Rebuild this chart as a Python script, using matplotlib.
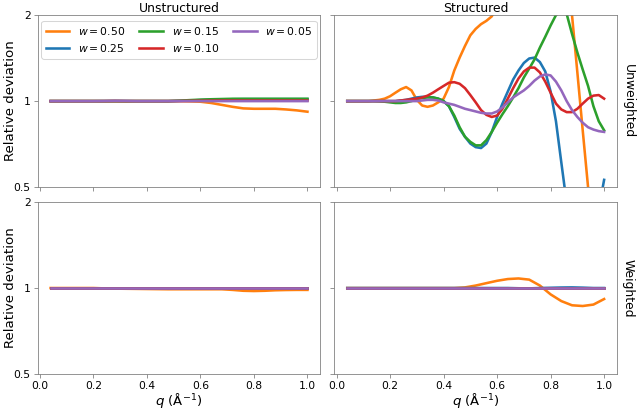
import numpy as np
import matplotlib.pyplot as plt
from matplotlib.ticker import FixedLocator, FixedFormatter, NullLocator

# q grids (1/Angstrom)
q_fine = np.round(np.arange(0.04, 1.001, 0.02), 2)    # structured / unweighted panel
q_coarse = np.round(np.arange(0.04, 1.001, 0.04), 2)  # other panels

widths = ['0.50', '0.25', '0.15', '0.10', '0.05']
colors = ['C1', 'C0', 'C2', 'C3', 'C4']

# --- Unstructured, unweighted (q_coarse) ---
unstr_unw = {
    '0.50': [1.0, 1.0, 1.0, 1.0, 1.0, 1.0, 1.002, 1.0, 1.0, 1.0, 1.0, 1.0, 1.0,
             0.998, 0.995, 0.985, 0.97, 0.955, 0.943, 0.94, 0.94, 0.94, 0.935, 0.928, 0.918],
    '0.25': [1.0, 1.0, 1.0, 1.0, 1.0, 1.0, 1.0, 1.0, 1.0, 1.0, 1.0, 1.0, 1.002,
             1.005, 1.008, 1.011, 1.013, 1.015, 1.016, 1.016, 1.016, 1.016, 1.016, 1.016, 1.016],
    '0.15': [1.0, 1.0, 1.0, 1.0, 1.0, 1.0, 1.0, 1.0, 1.0, 1.0, 1.0, 1.0, 1.003,
             1.008, 1.012, 1.015, 1.017, 1.019, 1.019, 1.019, 1.019, 1.019, 1.019, 1.019, 1.019],
    '0.10': [1.0, 1.0, 1.0, 1.0, 1.0, 1.0, 1.0, 1.0, 1.0, 1.0, 1.0, 1.0, 1.001,
             1.002, 1.003, 1.004, 1.005, 1.005, 1.005, 1.005, 1.005, 1.005, 1.005, 1.005, 1.005],
    '0.05': [1.0, 1.0, 1.0, 1.0, 1.0, 1.001, 1.003, 1.002, 1.0, 1.0, 1.0, 1.0, 1.0,
             1.0, 1.0, 1.0, 1.0, 1.0, 1.0, 1.0, 1.0, 1.0, 1.0, 1.0, 1.0],
}

# --- Structured, unweighted (q_fine) ---
str_unw = {
    '0.50': [1.0, 1.0, 1.0, 1.0, 1.0, 1.005, 1.01, 1.02, 1.04, 1.07, 1.10, 1.12, 1.09, 1.01,
             0.965, 0.955, 0.965, 0.99, 1.02, 1.12, 1.28, 1.42, 1.56, 1.70, 1.79, 1.86, 1.91,
             1.98, 2.15, 2.4, 2.7, 3.0, 3.2, 3.3, 3.3, 3.2, 3.0, 2.8, 2.6, 2.4, 2.25, 2.1,
             2.0, 1.26, 0.79, 0.5, 0.32, 0.22, 0.16],
    '0.25': [1.0, 1.0, 1.0, 1.0, 1.0, 1.0, 1.0, 1.0, 1.0, 1.0, 1.005, 1.01, 1.02, 1.03,
             1.035, 1.035, 1.03, 1.02, 1.0, 0.96, 0.88, 0.80, 0.75, 0.71, 0.69, 0.685, 0.71,
             0.78, 0.88, 0.98, 1.08, 1.19, 1.28, 1.36, 1.41, 1.42, 1.37, 1.27, 1.08, 0.85,
             0.61, 0.44, 0.34, 0.28, 0.26, 0.27, 0.31, 0.42, 0.53],
    '0.15': [1.0, 1.0, 1.0, 1.0, 1.0, 1.0, 0.998, 0.995, 0.99, 0.985, 0.985, 0.99, 1.0,
             1.015, 1.025, 1.03, 1.03, 1.02, 1.0, 0.96, 0.89, 0.81, 0.75, 0.72, 0.70, 0.70,
             0.73, 0.78, 0.84, 0.90, 0.96, 1.03, 1.11, 1.21, 1.30, 1.40, 1.54, 1.68, 1.84,
             2.0, 2.08, 2.02, 1.72, 1.48, 1.29, 1.13, 0.96, 0.85, 0.79],
    '0.10': [1.0, 1.0, 1.0, 1.0, 1.0, 1.0, 1.0, 1.0, 1.0, 1.0, 1.005, 1.01, 1.015, 1.02,
             1.03, 1.045, 1.07, 1.10, 1.13, 1.16, 1.165, 1.15, 1.11, 1.05, 0.99, 0.93, 0.895,
             0.88, 0.89, 0.94, 1.02, 1.11, 1.20, 1.27, 1.31, 1.31, 1.26, 1.17, 1.07, 0.98,
             0.935, 0.915, 0.915, 0.94, 0.98, 1.02, 1.045, 1.05, 1.02],
    '0.05': [1.0, 1.0, 1.0, 1.0, 1.0, 1.0, 1.0, 1.0, 1.0, 1.0, 1.0, 1.0, 1.0, 1.0,
             1.005, 1.01, 1.01, 1.005, 0.99, 0.98, 0.97, 0.955, 0.94, 0.93, 0.92, 0.91,
             0.905, 0.905, 0.92, 0.95, 0.99, 1.03, 1.06, 1.09, 1.13, 1.18, 1.22, 1.24, 1.23,
             1.17, 1.09, 1.0, 0.93, 0.88, 0.84, 0.81, 0.795, 0.785, 0.78],
}

# --- Unstructured, weighted (q_coarse) ---
unstr_w = {
    '0.50': [1.0, 1.0, 1.0, 1.0, 1.0, 0.997, 0.995, 0.994, 0.993, 0.992, 0.991, 0.99, 0.99,
             0.99, 0.99, 0.99, 0.99, 0.985, 0.978, 0.976, 0.978, 0.982, 0.984, 0.985, 0.985],
    '0.25': [1.0] * 25,
    '0.15': [1.0] * 25,
    '0.10': [1.0] * 25,
    '0.05': [1.0] * 25,
}

# --- Structured, weighted (q_coarse) ---
str_w = {
    '0.50': [1.0, 1.0, 1.0, 1.0, 1.0, 1.0, 1.0, 1.0, 1.0, 1.0, 1.0, 1.005, 1.02,
             1.04, 1.06, 1.075, 1.08, 1.07, 1.02, 0.95, 0.90, 0.87, 0.865, 0.875, 0.915],
    '0.25': [1.0, 1.0, 1.0, 1.0, 1.0, 1.0, 1.0, 1.0, 1.0, 1.0, 1.0, 1.0, 1.0,
             1.0, 1.0, 1.0, 0.998, 0.997, 1.0, 1.002, 1.004, 1.005, 1.003, 1.0, 1.0],
    '0.15': [1.0] * 25,
    '0.10': [1.0] * 25,
    '0.05': [1.0] * 25,
}

dpi = 74
fig, axes = plt.subplots(2, 2, figsize=(640 / dpi, 409 / dpi), dpi=dpi,
                         sharex=True, sharey=True)
fig.subplots_adjust(left=0.059, right=0.964, top=0.963, bottom=0.0856,
                    wspace=0.05, hspace=0.087)

panels = [(axes[0, 0], q_coarse, unstr_unw), (axes[0, 1], q_fine, str_unw),
          (axes[1, 0], q_coarse, unstr_w), (axes[1, 1], q_coarse, str_w)]

for ax, q, data in panels:
    for w, c in zip(widths, colors):
        ax.plot(q, data[w], color=c, lw=2.5, label=f'$w = {w}$')
    ax.set_yscale('log')
    for s in ax.spines.values():
        s.set_edgecolor('gray')
    ax.tick_params(color='gray', labelcolor='black', labelsize=10.5)

ax = axes[0, 0]
ax.set_ylim(0.5, 2)
ax.yaxis.set_major_locator(FixedLocator([0.5, 1, 2]))
ax.yaxis.set_major_formatter(FixedFormatter(['0.5', '1', '2']))
ax.yaxis.set_minor_locator(NullLocator())
ax.set_xticks([0.0, 0.2, 0.4, 0.6, 0.8, 1.0])

axes[0, 0].set_title('Unstructured', fontsize=12, pad=2)
axes[0, 1].set_title('Structured', fontsize=12, pad=2)
for a in axes[:, 0]:
    a.set_ylabel('Relative deviation', fontsize=13)
    a.yaxis.set_label_coords(-0.072, 0.5)
for a in axes[1, :]:
    a.set_xlabel('$q$ (Å$^{-1}$)', fontsize=13, labelpad=0)
axes[0, 1].text(1.04, 0.5, 'Unweighted', rotation=270, transform=axes[0, 1].transAxes,
                ha='center', va='center', fontsize=12)
axes[1, 1].text(1.04, 0.5, 'Weighted', rotation=270, transform=axes[1, 1].transAxes,
                ha='center', va='center', fontsize=12)

axes[0, 0].legend(loc='upper center', ncol=3, fontsize=10.5, columnspacing=1.3,
                  handlelength=2.2)

fig.savefig('out.png', dpi=dpi)
